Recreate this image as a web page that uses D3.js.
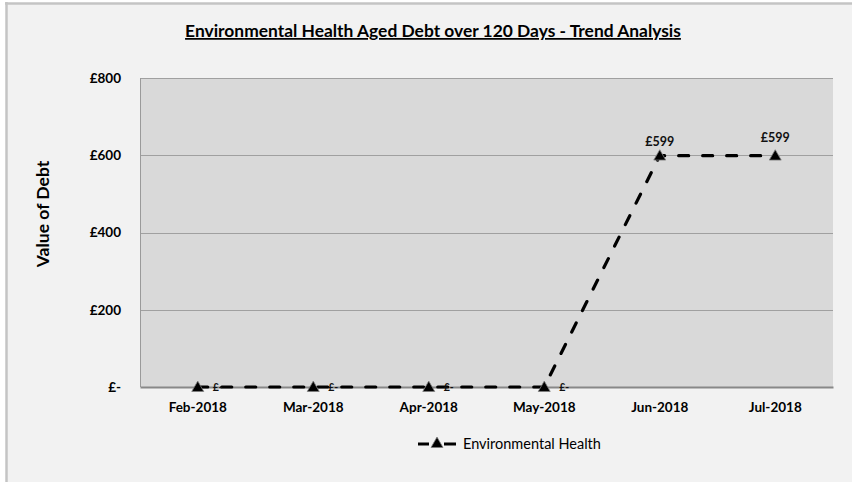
<!DOCTYPE html>
<html>
<head>
<meta charset="utf-8">
<script src="https://cdn.jsdelivr.net/npm/d3@7"></script>
<style>
  html, body { margin: 0; padding: 0; background: #ffffff; overflow: hidden; }
  svg { display: block; font-family: Lato, "Open Sans", sans-serif; }
</style>
</head>
<body>
<svg id="chart" width="852" height="482"></svg>
<script>
// Aged debt (over 120 days), Environmental Health, by month
const months = ["Feb-2018", "Mar-2018", "Apr-2018", "May-2018", "Jun-2018", "Jul-2018"];
const debtValues = [0, 0, 0, 0, 599, 599];
const yTicks = [0, 200, 400, 600, 800];
const seriesName = "Environmental Health";
const chartTitle = "Environmental Health Aged Debt over 120 Days - Trend Analysis";
const yAxisTitle = "Value of Debt";

const fmt = v => v === 0 ? "£-" : "£" + d3.format(",")(v);

const svg = d3.select("#chart");
const W = 852, H = 482;
const plot = { left: 140, top: 78, right: 833, bottom: 387 };

// outer chart panel (continues past the right and bottom edges)
svg.append("rect")
  .attr("x", 6).attr("y", 3)
  .attr("width", W).attr("height", H)
  .attr("fill", "#f2f2f2");
svg.append("line")
  .attr("x1", 6.5).attr("x2", 6.5).attr("y1", 2).attr("y2", H)
  .attr("stroke", "#c4c4c4").attr("stroke-width", 2.5);
svg.append("line")
  .attr("x1", 5).attr("x2", W).attr("y1", 3.5).attr("y2", 3.5)
  .attr("stroke", "#c4c4c4").attr("stroke-width", 2.5);

const x = d3.scaleBand().domain(months).range([plot.left, plot.right]).paddingInner(0).paddingOuter(0);
const y = d3.scaleLinear().domain([0, 800]).range([plot.bottom, plot.top]);
const cx = m => x(m) + x.bandwidth() / 2;

// plot area
svg.append("rect")
  .attr("x", plot.left).attr("y", plot.top)
  .attr("width", plot.right - plot.left).attr("height", plot.bottom - plot.top)
  .attr("fill", "#d9d9d9");

// horizontal gridlines
svg.append("g")
  .selectAll("line")
  .data(yTicks.filter(t => t > 0))
  .join("line")
  .attr("x1", plot.left).attr("x2", plot.right)
  .attr("y1", d => Math.round(y(d)) + 0.5).attr("y2", d => Math.round(y(d)) + 0.5)
  .attr("stroke", "#a0a0a0").attr("stroke-width", 1);

// left edge of plot area
svg.append("line")
  .attr("x1", plot.left + 0.5).attr("x2", plot.left + 0.5)
  .attr("y1", plot.top).attr("y2", plot.bottom)
  .attr("stroke", "#9a9a9a").attr("stroke-width", 1);

// y axis labels
const yAxis = d3.axisLeft(y).tickValues(yTicks).tickFormat(fmt).tickSize(0).tickPadding(19);
const gy = svg.append("g").attr("transform", `translate(${plot.left},0)`).call(yAxis);
gy.select(".domain").remove();
gy.selectAll("text")
  .attr("font-family", "Lato, sans-serif")
  .attr("font-weight", "bold").attr("font-size", 13.5).attr("fill", "#000");

// x axis
const xAxis = d3.axisBottom(x).tickSize(0).tickPadding(15);
const gx = svg.append("g").attr("transform", `translate(0,${plot.bottom})`).call(xAxis);
gx.select(".domain").attr("stroke", "#888888").attr("stroke-width", 2);
gx.selectAll("text")
  .attr("font-family", "Lato, sans-serif")
  .attr("font-weight", "bold").attr("font-size", 13.5).attr("fill", "#000");

// series line
const line = d3.line().x((d, i) => cx(months[i])).y(d => y(d));
svg.append("path")
  .datum(debtValues)
  .attr("d", line)
  .attr("fill", "none")
  .attr("stroke", "#000")
  .attr("stroke-width", 3.2)
  .attr("stroke-dasharray", "10,14")
  .attr("stroke-linecap", "round");

// triangle markers
const tri = d3.symbol().type(d3.symbolTriangle).size(62);
svg.append("g")
  .selectAll("path")
  .data(debtValues)
  .join("path")
  .attr("d", tri)
  .attr("transform", (d, i) => `translate(${cx(months[i])},${y(d) + 1})`)
  .attr("fill", "#000")
  .attr("stroke", "#7f7f7f").attr("stroke-width", 0.8);

// data labels
svg.append("g")
  .selectAll("text")
  .data(debtValues)
  .join("text")
  .attr("x", (d, i) => d === 0 ? cx(months[i]) + 15 : cx(months[i]))
  .attr("y", (d, i) => d === 0 ? y(d) + 4 : y(d) - (i === 4 ? 10 : 14))
  .attr("text-anchor", d => d === 0 ? "start" : "middle")
  .attr("font-size", d => d === 0 ? 10.5 : 12.5)
  .attr("font-weight", "bold")
  .attr("fill", "#111")
  .text(fmt);

// title
svg.append("text")
  .attr("x", 433).attr("y", 37)
  .attr("text-anchor", "middle")
  .attr("font-size", 17.4).attr("font-weight", "bold")
  .attr("text-decoration", "underline")
  .attr("fill", "#000")
  .text(chartTitle);

// y axis title
svg.append("text")
  .attr("transform", `translate(49,214) rotate(-90)`)
  .attr("text-anchor", "middle")
  .attr("font-size", 17.5).attr("font-weight", "bold")
  .attr("fill", "#000")
  .text(yAxisTitle);

// legend
const lg = svg.append("g").attr("transform", "translate(0,444)");
lg.append("line")
  .attr("x1", 418).attr("x2", 456).attr("y1", 0).attr("y2", 0)
  .attr("stroke", "#000").attr("stroke-width", 3.2)
  .attr("stroke-dasharray", "11,15,12").attr("stroke-linecap", "butt");
lg.append("path")
  .attr("d", tri)
  .attr("transform", "translate(437,0)")
  .attr("fill", "#000").attr("stroke", "#7f7f7f").attr("stroke-width", 0.8);
lg.append("text")
  .attr("x", 463).attr("y", 5)
  .attr("font-size", 14.5).attr("fill", "#000")
  .text(seriesName);
</script>
</body>
</html>
